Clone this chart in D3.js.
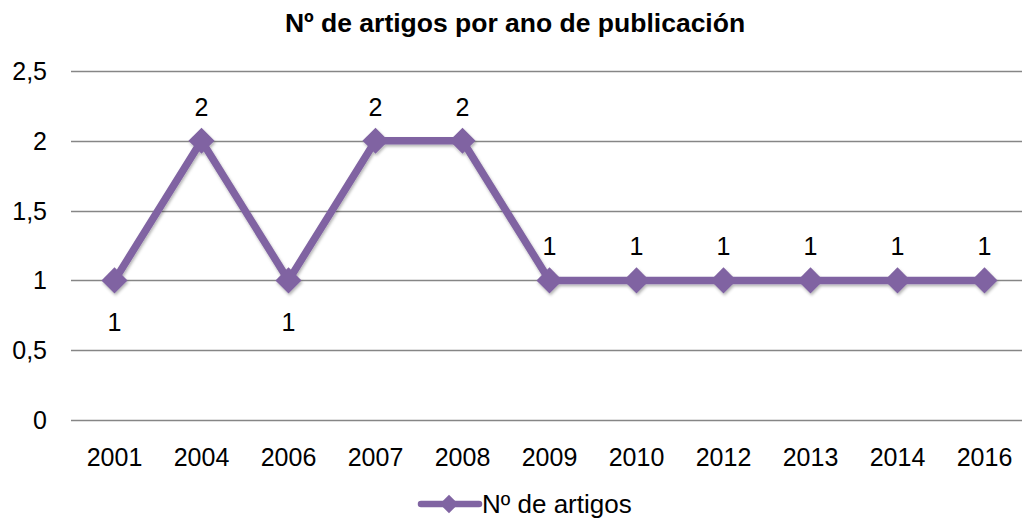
<!DOCTYPE html>
<html>
<head>
<meta charset="utf-8">
<script src="https://cdn.jsdelivr.net/npm/d3@7"></script>
<style>
  body { margin: 0; background: #fff; }
  svg { font-family: "Liberation Sans", Arial, sans-serif; }
</style>
</head>
<body>
<div id="chart"></div>
<script>
const years = ["2001", "2004", "2006", "2007", "2008", "2009", "2010", "2012", "2013", "2014", "2016"];
const counts = [1, 2, 1, 2, 2, 1, 1, 1, 1, 1, 1];
const labelBelow = [true, false, true, false, false, false, false, false, false, false, false];
const yTicks = [0, 0.5, 1, 1.5, 2, 2.5];
const seriesName = "Nº de artigos";
const title = "Nº de artigos por ano de publicación";

const width = 1022, height = 523;
const color = "#8064A2";
const fs = 25;

const svg = d3.select("#chart").append("svg")
  .attr("width", width)
  .attr("height", height);

const x = d3.scaleBand()
  .domain(years)
  .range([71, 1028]);

const y = d3.scaleLinear()
  .domain([0, 2.5])
  .range([420, 71]);

// title
svg.append("text")
  .attr("x", 515)
  .attr("y", 32)
  .attr("text-anchor", "middle")
  .attr("font-weight", "bold")
  .attr("font-size", 26.5)
  .text(title);

// gridlines
svg.append("g")
  .selectAll("line")
  .data(yTicks)
  .enter().append("line")
  .attr("x1", 71)
  .attr("x2", 1028)
  .attr("y1", d => Math.round(y(d)) + 0.5)
  .attr("y2", d => Math.round(y(d)) + 0.5)
  .attr("stroke", "#868686")
  .attr("stroke-width", 1.3);

// y labels
svg.append("g")
  .selectAll("text")
  .data(yTicks)
  .enter().append("text")
  .attr("x", 47)
  .attr("y", d => y(d) + 9)
  .attr("text-anchor", "end")
  .attr("font-size", fs)
  .text(d => String(d).replace(".", ","));

// x labels
svg.append("g")
  .selectAll("text")
  .data(years)
  .enter().append("text")
  .attr("x", d => x(d) + x.bandwidth() / 2)
  .attr("y", 466)
  .attr("text-anchor", "middle")
  .attr("font-size", fs)
  .text(d => d);

const data = years.map((yr, i) => ({ year: yr, value: counts[i], below: labelBelow[i] }));
const cx = d => x(d.year) + x.bandwidth() / 2;

// shadow
const defs = svg.append("defs");
const f = defs.append("filter").attr("id", "shadow").attr("x", "-20%").attr("y", "-20%").attr("width", "140%").attr("height", "140%");
f.append("feDropShadow").attr("dx", 1).attr("dy", 2).attr("stdDeviation", 1.5).attr("flood-color", "#000").attr("flood-opacity", 0.3);

const plot = svg.append("g").attr("filter", "url(#shadow)");

plot.append("path")
  .datum(data)
  .attr("fill", "none")
  .attr("stroke", color)
  .attr("stroke-width", 7.5)
  .attr("stroke-linejoin", "round")
  .attr("d", d3.line().x(cx).y(d => y(d.value)));

plot.selectAll("path.pt")
  .data(data)
  .enter().append("path")
  .attr("class", "pt")
  .attr("d", d3.symbol().type(d3.symbolSquare).size(340))
  .attr("transform", d => `translate(${cx(d)},${y(d.value)}) rotate(45)`)
  .attr("fill", color);

// data labels
svg.append("g")
  .selectAll("text")
  .data(data)
  .enter().append("text")
  .attr("x", cx)
  .attr("y", d => d.below ? y(d.value) + 51 : y(d.value) - 25)
  .attr("text-anchor", "middle")
  .attr("font-size", fs)
  .text(d => d.value);

// legend
const lg = svg.append("g");
lg.append("line")
  .attr("x1", 421).attr("x2", 479)
  .attr("y1", 504).attr("y2", 504)
  .attr("stroke", color)
  .attr("stroke-width", 6.5)
  .attr("stroke-linecap", "round");
lg.append("path")
  .attr("d", d3.symbol().type(d3.symbolSquare).size(170))
  .attr("transform", "translate(449,504) rotate(45)")
  .attr("fill", color);
lg.append("text")
  .attr("x", 482)
  .attr("y", 513)
  .attr("font-size", fs + 1)
  .text(seriesName);
</script>
</body>
</html>
